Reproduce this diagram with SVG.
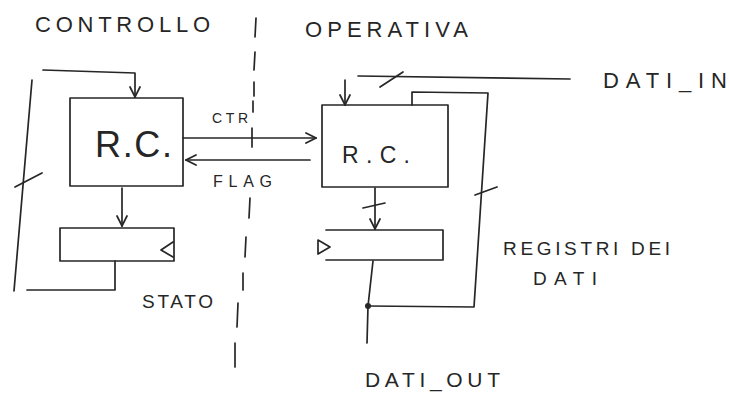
<svg xmlns="http://www.w3.org/2000/svg" width="730" height="393" viewBox="0 0 730 393">
<defs>
<style>
.s{fill:none;stroke:#262626;stroke-width:1.7;stroke-linecap:round;stroke-linejoin:round}
.t{font-family:"Liberation Sans",Arial,sans-serif;fill:#262626}
</style>
<marker id="ah" viewBox="0 0 12 12" refX="11" refY="6" markerWidth="12" markerHeight="12" markerUnits="userSpaceOnUse" orient="auto">
<path d="M1,1 L11,6 L1,11" fill="none" stroke="#262626" stroke-width="1.7" stroke-linecap="round"/>
</marker>
</defs>
<rect width="730" height="393" fill="#fff"/>

<g id="titles">
<text class="t" x="35" y="32" font-size="22" textLength="175" lengthAdjust="spacing">CONTROLLO</text>
<text class="t" x="305" y="37" font-size="22" textLength="163" lengthAdjust="spacing">OPERATIVA</text>
</g>

<g id="divider" class="s">
<line x1="256" y1="18" x2="255" y2="37"/>
<line x1="255" y1="52" x2="254" y2="70"/>
<line x1="254" y1="82" x2="254" y2="96"/>
<line x1="253" y1="101" x2="253" y2="112"/>
<line x1="252" y1="128" x2="252" y2="147"/>
<line x1="250" y1="198" x2="249" y2="218"/>
<line x1="246" y1="237" x2="245" y2="257"/>
<line x1="243" y1="273" x2="243" y2="290"/>
<line x1="238" y1="303" x2="237" y2="327"/>
<line x1="235" y1="343" x2="235" y2="367"/>
</g>

<g id="ctrl-rc">
<rect class="s" x="70" y="98" width="113" height="88"/>
<text class="t" x="95" y="157" font-size="36" textLength="77" lengthAdjust="spacing">R.C.</text>
</g>

<g id="ctrl-stato">
<rect class="s" x="60" y="228" width="114" height="33"/>
<path class="s" d="M173,242 L161,250 L173,257"/>
<text class="t" x="142" y="308" font-size="19" textLength="71" lengthAdjust="spacing">STATO</text>
</g>

<g id="op-rc">
<rect class="s" x="322" y="105" width="126" height="82"/>
<text class="t" x="342" y="163" font-size="23" textLength="68" lengthAdjust="spacing">R.C.</text>
</g>

<g id="op-reg">
<path class="s" d="M326,230 H443 V260 H326"/>
<path class="s" d="M318,240 L330,247 L318,254 Z"/>
<text class="t" x="503" y="255" font-size="19" textLength="167" lengthAdjust="spacing">REGISTRI DEI</text>
<text class="t" x="533" y="285" font-size="19" textLength="64" lengthAdjust="spacing">DATI</text>
</g>

<g id="io-labels">
<text class="t" x="603" y="88" font-size="22" textLength="124" lengthAdjust="spacing">DATI_IN</text>
<text class="t" x="365" y="387" font-size="21" textLength="135" lengthAdjust="spacing">DATI_OUT</text>
<text class="t" x="212" y="123" font-size="14" textLength="36" lengthAdjust="spacing">CTR</text>
<text class="t" x="213" y="187" font-size="16" textLength="59" lengthAdjust="spacing">FLAG</text>
</g>

<g id="connectors" class="s">
<path d="M43,70 L135,73 L135,97" marker-end="url(#ah)"/>
<line x1="32" y1="80" x2="14" y2="291"/>
<line x1="15" y1="187" x2="42" y2="173"/>
<path d="M115,261 V290 H27"/>
<line x1="122" y1="188" x2="122" y2="226" marker-end="url(#ah)"/>
<line x1="183" y1="138" x2="316" y2="138" marker-end="url(#ah)"/>
<line x1="310" y1="160" x2="186" y2="160" marker-end="url(#ah)"/>
<line x1="358" y1="76" x2="570" y2="79"/>
<line x1="380" y1="87" x2="403" y2="72"/>
<line x1="345" y1="80" x2="345" y2="105" marker-end="url(#ah)"/>
<line x1="375" y1="188" x2="375" y2="229" marker-end="url(#ah)"/>
<line x1="363" y1="208" x2="385" y2="203"/>
<path d="M373,261 L368,306 L367,343"/>
<circle cx="368" cy="306" r="3" fill="#262626" stroke="none"/>
<path d="M368,306 L474,307 L488,93 L412,92 L412,105"/>
<line x1="475" y1="195" x2="497" y2="187"/>
</g>
</svg>
